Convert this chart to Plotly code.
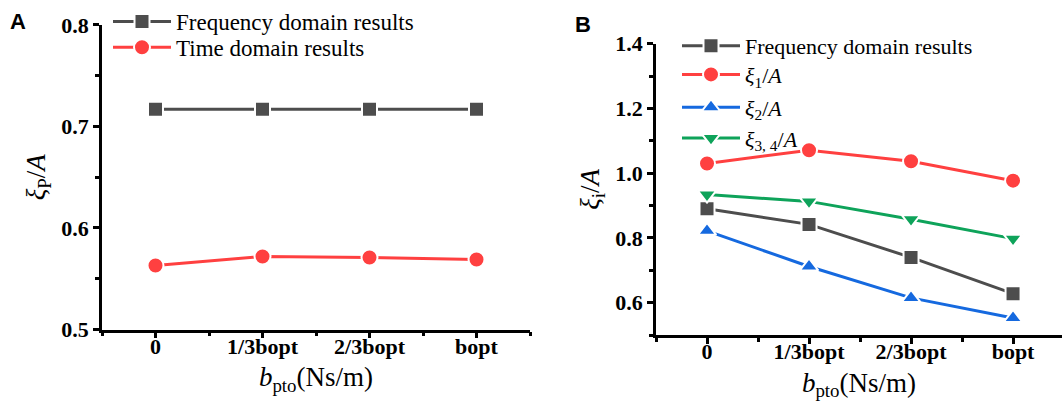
import plotly.graph_objects as go

categories = ["0", "1/3bopt", "2/3bopt", "bopt"]
x_pos = [0, 1, 2, 3]

# Panel A
freq_A = [0.717, 0.717, 0.717, 0.717]
time_A = [0.563, 0.572, 0.571, 0.569]

# Panel B
freq_B = [0.890, 0.842, 0.740, 0.628]
xi1_B = [1.030, 1.071, 1.037, 0.977]
xi2_B = [0.822, 0.712, 0.615, 0.553]
xi34_B = [0.934, 0.913, 0.858, 0.798]

GRAY = "#4d4d4d"
RED = "#ff4040"
BLUE = "#1569df"
GREEN = "#0ea35a"
SERIF = "Liberation Serif, Times New Roman, serif"

fig = go.Figure()

def add(x, y, name, color, symbol, size, xa, ya, legend):
    fig.add_trace(go.Scatter(
        x=x, y=y, name=name, mode="lines+markers",
        line=dict(color=color, width=3),
        marker=dict(symbol=symbol, size=size, color=color,
                    line=dict(color="white", width=2)),
        xaxis=xa, yaxis=ya, legend=legend))

add(x_pos, freq_A, "Frequency domain results", GRAY, "square", 15, "x", "y", "legend")
add(x_pos, time_A, "Time domain results", RED, "circle", 16, "x", "y", "legend2")

add(x_pos, freq_B, "Frequency domain results", GRAY, "square", 15, "x2", "y2", "legend3")
add(x_pos, xi1_B, "<i>ξ</i><sub>1</sub>/<i>A</i>", RED, "circle", 16, "x2", "y2", "legend4")
add(x_pos, xi2_B, "<i>ξ</i><sub>2</sub>/<i>A</i>", BLUE, "triangle-up", 16, "x2", "y2", "legend5")
add(x_pos, xi34_B, "<i>ξ</i><sub>3, 4</sub>/<i>A</i>", GREEN, "triangle-down", 16, "x2", "y2", "legend6")

tickfont = dict(family=SERIF, size=22, color="black", weight="bold")
titlefont = dict(family=SERIF, size=27, color="black")

def xaxis(domain, rng, anchor):
    return dict(domain=domain, range=rng, tickvals=x_pos, ticktext=categories,
                anchor=anchor, automargin=False, ticklabelstandoff=-11,
                showline=True, linecolor="black", linewidth=2.5, ticks="outside",
                ticklen=6, tickwidth=2.5, tickcolor="black", showgrid=False,
                zeroline=False, tickfont=tickfont,
                minor=dict(tickvals=[-0.5, 0.5, 1.5, 2.5, 3.5], ticks="outside",
                           ticklen=4, tickwidth=2.5, tickcolor="black"),
                title=dict(text="<i>b</i><sub>pto</sub>(Ns/m)", font=titlefont, standoff=10))

def yaxis(domain, rng, dtick, minor, title, anchor):
    return dict(domain=domain, range=rng, dtick=dtick, tick0=0, anchor=anchor,
                automargin=False,
                showline=True, linecolor="black", linewidth=2.5, ticks="outside",
                ticklen=6, tickwidth=2.5, tickcolor="black", showgrid=False,
                zeroline=False, tickfont=tickfont, tickformat=".1f",
                minor=dict(dtick=minor, ticks="outside", ticklen=4, tickwidth=2.5,
                           tickcolor="black"),
                title=dict(text=title, font=titlefont, standoff=8))

def leg(x_px, top_px, size):
    return dict(x=x_px/1062, y=1-top_px/405, xanchor="left", yanchor="top",
                font=dict(family=SERIF, size=size, color="black"),
                bgcolor="rgba(0,0,0,0)", itemwidth=58, tracegroupgap=0)

fig.update_layout(
    width=1062, height=405,
    margin=dict(l=0, r=0, t=0, b=0),
    paper_bgcolor="white", plot_bgcolor="white",
    xaxis=xaxis([102/1062, 530/1062], [-0.5, 3.5], "y"),
    yaxis=yaxis([1-329/405, 1-22/405], [0.5, 0.8], 0.1, 0.05,
                "<i>ξ</i><sub>P</sub>/<i>A</i>", "x"),
    xaxis2=xaxis([656/1062, 1.0], [-0.5, 3.48], "y2"),
    yaxis2=yaxis([1-334.6/405, 1-41/405], [0.5, 1.4], 0.2, 0.1,
                 "<i>ξ</i><sub>i</sub>/<i>A</i>", "x2"),
    legend=leg(108, -3, 23),
    legend2=leg(108, 23, 23),
    legend3=leg(677, 22, 22),
    legend4=leg(677, 51, 22),
    legend5=leg(677, 84, 22),
    legend6=leg(677, 115, 22),
    showlegend=True,
    annotations=[
        dict(text="<b>A</b>", x=8/1062, y=1-19/405, xref="paper", yref="paper",
             xanchor="left", yanchor="middle", showarrow=False,
             font=dict(family="Liberation Sans, Arial", size=22, color="black")),
        dict(text="<b>B</b>", x=573/1062, y=1-22/405, xref="paper", yref="paper",
             xanchor="left", yanchor="middle", showarrow=False,
             font=dict(family="Liberation Sans, Arial", size=22, color="black")),
    ],
)

fig.write_html("out.html", post_script="document.body.style.margin='0';",
               config={"displayModeBar": False})
